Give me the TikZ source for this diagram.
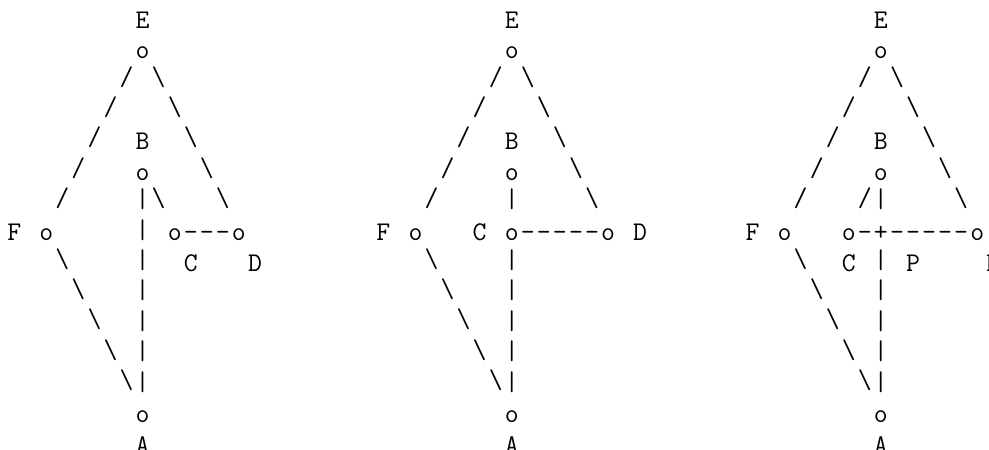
\documentclass[tikz,border=0pt]{standalone}
\usetikzlibrary{positioning}

% one fixed-width cell per character, '*' stands for a blank cell
\newdimen\cellw \cellw=16.05pt
\newcommand\bs{\textbackslash}
\def\cellchar#1{\ifx#1*\else\ifx#1/\raisebox{4pt}{/}\else
  \ifx#1\bs\raisebox{4pt}{\bs}\else\ifx#1|\raisebox{2.5pt}{|}\else#1\fi\fi\fi\fi}
\newcommand\gridrow[1]{\gridrowi#1\relax}
\def\gridrowi#1{\ifx#1\relax\else\makebox[\cellw]{\cellchar#1}\expandafter\gridrowi\fi}

\begin{document}
\begin{tikzpicture}[x=1pt, y=1pt,
    ascii/.style={anchor=base west, inner sep=0pt, font=\ttfamily\fontsize{27}{30}\selectfont}
]
\useasboundingbox (0,0) rectangle (989,-450);

% left lattice
\foreach \row [count=\r from 0] in {********E, ********o, *******/*\bs, ******/***\bs,
    *****/**B**\bs, ****/***o***\bs, ***/****|\bs***\bs, F*o*****|*o---o,
    ***\bs****|**C***D, ****\bs***|, *****\bs**|, ******\bs*|, *******\bs|,
    ********o, ********A}
  \node[ascii] (left-\r) at (6,{-28.3-30.35*\r}) {\expandafter\gridrow\expandafter{\row}};

% middle lattice
\foreach \row [count=\r from 0] in {********E, ********o, *******/*\bs, ******/***\bs,
    *****/**B**\bs, ****/***o***\bs, ***/****|****\bs, F*o***C*o-----o*D,
    ***\bs****|, ****\bs***|, *****\bs**|, ******\bs*|, *******\bs|,
    ********o, ********A}
  \node[ascii] (mid-\r) at (375.15,{-28.3-30.35*\r}) {\expandafter\gridrow\expandafter{\row}};

% right lattice, P where CD meets AB
\foreach \row [count=\r from 0] in {********E, ********o, *******/*\bs, ******/***\bs,
    *****/**B**\bs, ****/***o***\bs, ***/***/|****\bs, F*o***o-+-----o,
    ***\bs**C*|*P****D, ****\bs***|, *****\bs**|, ******\bs*|, *******\bs|,
    ********o, ********A}
  \node[ascii] (right-\r) at (744.3,{-28.3-30.35*\r}) {\expandafter\gridrow\expandafter{\row}};
\end{tikzpicture}
\end{document}
